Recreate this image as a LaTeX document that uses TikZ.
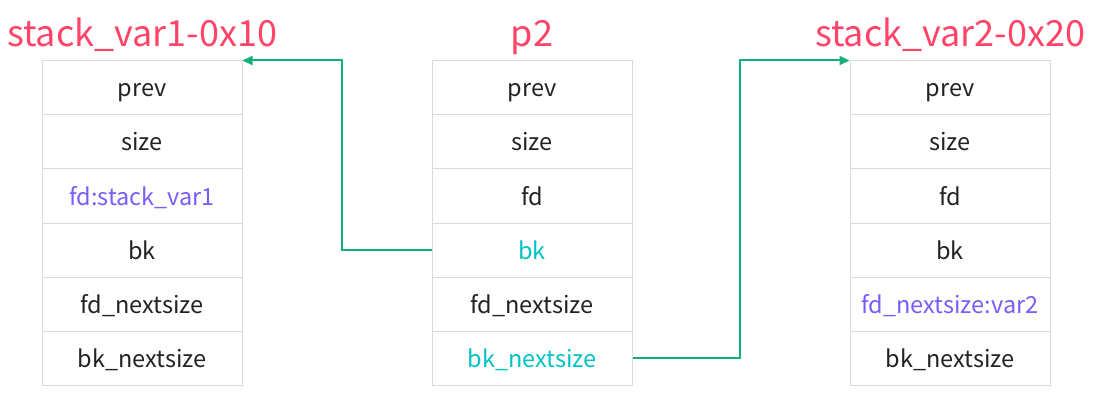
\documentclass[tikz,border=0pt]{standalone}
\usepackage{fontspec}
\setmainfont{Noto Sans CJK SC}
\usetikzlibrary{arrows.meta}

\definecolor{titlered}{HTML}{FF4468}
\definecolor{cellgray}{HTML}{DADADA}
\definecolor{txt}{HTML}{222222}
\definecolor{ptrteal}{HTML}{00C2C2}
\definecolor{varpurple}{HTML}{7B5CFA}
\definecolor{linkgreen}{HTML}{12AE7C}

\tikzset{
  cell/.style={draw=cellgray, line width=1pt, minimum width=200pt, minimum height=54pt,
    inner sep=0pt, text height=22pt, text depth=4pt,
    font=\fontsize{23.5}{28}\selectfont, text=txt},
  chunktitle/.style={anchor=base, text=titlered, font=\fontsize{36}{42}\selectfont},
  link/.style={draw=linkgreen, line width=2pt, -{Triangle[length=10pt,width=9pt]}}
}

\begin{document}
\begin{tikzpicture}[x=1pt,y=-1pt]
  \useasboundingbox (0,0) rectangle (1093,401);

  % titles
  \node[chunktitle] (ta) at (142,47) {stack\_var1-0x10};
  \node[chunktitle] (tb) at (532,47) {p2};
  \node[chunktitle] (tc) at (950,47) {stack\_var2-0x20};

  % stack_var1 chunk
  \foreach \txt/\col [count=\i] in {prev/txt, size/txt, fd:stack\_var1/varpurple,
      bk/txt, fd\_nextsize/txt, bk\_nextsize/txt}
    \node[cell, text=\col] (a\i) at (142,{88+54*(\i-1)}) {\txt};

  % p2 chunk
  \foreach \txt/\col [count=\i] in {prev/txt, size/txt, fd/txt,
      bk/ptrteal, fd\_nextsize/txt, bk\_nextsize/ptrteal}
    \node[cell, text=\col] (b\i) at (532,{88+54*(\i-1)}) {\txt};

  % stack_var2 chunk
  \foreach \txt/\col [count=\i] in {prev/txt, size/txt, fd/txt,
      bk/txt, fd\_nextsize:var2/varpurple, bk\_nextsize/txt}
    \node[cell, text=\col] (c\i) at (950,{88+54*(\i-1)}) {\txt};

  % pointers
  \draw[link] (b4.west) -- ++(-90,0) |- (a1.north east);
  \draw[link] (b6.east) -- ++(107,0) |- (c1.north west);
\end{tikzpicture}
\end{document}
